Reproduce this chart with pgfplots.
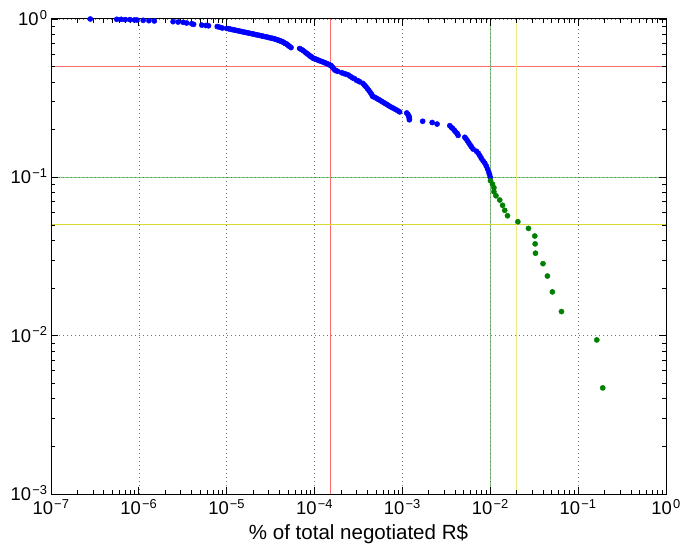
\documentclass[border=0pt]{standalone}
\usepackage{fontspec}
\setmainfont{Liberation Sans}
\usepackage{pgfplots}
\pgfplotsset{compat=1.18}
\definecolor{mplblue}{rgb}{0,0,1}
\definecolor{mplgreen}{rgb}{0,0.5,0}
\definecolor{refred}{rgb}{1,0.42,0.42}
\definecolor{refgreen}{rgb}{0.5,0.78,0.5}
\definecolor{refyellow}{rgb}{0.85,0.85,0.2}
\definecolor{refyellowv}{rgb}{0.92,0.92,0.5}
\newcommand{\tcklbl}{\fontsize{18.5}{22}\selectfont}
\newcommand{\lbl}{\fontsize{20.6}{24}\selectfont}
\newcommand{\pw}[1]{10\kern1.2bp\textsuperscript{#1}}

\begin{document}
\begin{tikzpicture}
\begin{axis}[
    name=ax,
    set layers,
    scale only axis,
    width=615bp, height=475bp,
    xmode=log, ymode=log,
    log basis x=10, log basis y=10,
    xmin=1e-7, xmax=1,
    ymin=1e-3, ymax=1,
    xtick={1e-7,1e-6,1e-5,1e-4,1e-3,1e-2,1e-1,1},
    minor xtick={2e-7,3e-7,4e-7,5e-7,6e-7,7e-7,8e-7,9e-7,
      2e-6,3e-6,4e-6,5e-6,6e-6,7e-6,8e-6,9e-6,
      2e-5,3e-5,4e-5,5e-5,6e-5,7e-5,8e-5,9e-5,
      2e-4,3e-4,4e-4,5e-4,6e-4,7e-4,8e-4,9e-4,
      2e-3,3e-3,4e-3,5e-3,6e-3,7e-3,8e-3,9e-3,
      2e-2,3e-2,4e-2,5e-2,6e-2,7e-2,8e-2,9e-2,
      0.2,0.3,0.4,0.5,0.6,0.7,0.8,0.9},
    ytick={1e-3,1e-2,1e-1,1},
    minor ytick={2e-3,3e-3,4e-3,5e-3,6e-3,7e-3,8e-3,9e-3,
      2e-2,3e-2,4e-2,5e-2,6e-2,7e-2,8e-2,9e-2,
      0.2,0.3,0.4,0.5,0.6,0.7,0.8,0.9},
    xticklabels={\pw{−7},\pw{−6},\pw{−5},\pw{−4},\pw{−3},\pw{−2},\pw{−1},\pw{0}},
    yticklabels={\pw{−3},\pw{−2},\pw{−1},\pw{0}},
    xmajorgrids, ymajorgrids,
    xminorgrids=false, yminorgrids=false,
    major grid style={black!55, line width=0.5bp, dash pattern=on 1bp off 3bp},
    axis line style={black, line width=1bp},
    tick style={black, line width=0.8bp},
    major tick length=7bp,
    minor tick length=4bp,
    tick align=inside,
    ticklabel style={font=\tcklbl},
    xticklabel style={yshift=-2bp},
    yticklabel style={yshift=1bp},
    label style={font=\lbl},
    xlabel style={yshift=-3bp},
    xlabel={\% of total negotiated R\$},
  ]

  % reference lines
  \addplot[refred, line width=1bp, on layer=axis background] coordinates {(1e-7,0.5) (1,0.5)};
  \addplot[refred, line width=1bp, on layer=axis background] coordinates {(1.5e-4,1e-3) (1.5e-4,1)};
  \addplot[refgreen, line width=1.3bp, on layer=axis background] coordinates {(1e-7,0.1) (1,0.1)};
  \addplot[refgreen, line width=1.3bp, on layer=axis background] coordinates {(1e-2,1e-3) (1e-2,1)};
  \addplot[refyellow, line width=1bp, on layer=axis background] coordinates {(1e-7,0.05) (1,0.05)};
  \addplot[refyellowv, line width=1.3bp, on layer=axis background] coordinates {(2e-2,1e-3) (2e-2,1)};

  % above 1%: blue
  \addplot[only marks, mark=*, mark size=2.6bp, mplblue] coordinates {
    (2.8e-7,1.000) (5.6e-7,0.995) (6.3e-7,0.995) (7.0e-7,0.991) (7.9e-7,0.991)
    (8.9e-7,0.986) (9.5e-7,0.986) (1.12e-6,0.981) (1.3e-6,0.976) (1.5e-6,0.972)
    (2.45e-6,0.962) (2.8e-6,0.957) (3.2e-6,0.953) (3.5e-6,0.943) (4.0e-6,0.934)
    (4.2e-6,0.925) (5.2e-6,0.915) (5.8e-6,0.910) (6.2e-6,0.906)
    (7.8e-6,0.896) (8.3e-6,0.887) (8.9e-6,0.877)
    (1.00e-5,0.872) (1.05e-5,0.868) (1.10e-5,0.863) (1.15e-5,0.858) (1.20e-5,0.854)
    (1.26e-5,0.849) (1.32e-5,0.844) (1.38e-5,0.840) (1.45e-5,0.835) (1.52e-5,0.830)
    (1.60e-5,0.825) (1.68e-5,0.821) (1.76e-5,0.816) (1.85e-5,0.811) (1.94e-5,0.807)
    (2.04e-5,0.802) (2.14e-5,0.797) (2.25e-5,0.792) (2.36e-5,0.788) (2.48e-5,0.783)
    (2.60e-5,0.778) (2.73e-5,0.774) (2.87e-5,0.769) (3.01e-5,0.764) (3.16e-5,0.759)
    (3.32e-5,0.755) (3.48e-5,0.750) (3.60e-5,0.745) (3.72e-5,0.741) (3.85e-5,0.736)
    (3.98e-5,0.731) (4.10e-5,0.726) (4.22e-5,0.722) (4.35e-5,0.717) (4.48e-5,0.708)
    (4.60e-5,0.703) (4.75e-5,0.698) (4.90e-5,0.689) (5.05e-5,0.679) (5.20e-5,0.670)
    (5.40e-5,0.660)
    (6.76e-5,0.651) (7.1e-5,0.642) (7.4e-5,0.632) (7.8e-5,0.618) (8.1e-5,0.608)
    (8.4e-5,0.599) (8.7e-5,0.590) (9.0e-5,0.580) (9.3e-5,0.575) (9.6e-5,0.566)
    (1.00e-4,0.561) (1.04e-4,0.557) (1.08e-4,0.552) (1.12e-4,0.547) (1.17e-4,0.542)
    (1.22e-4,0.538) (1.27e-4,0.533) (1.32e-4,0.528) (1.37e-4,0.524) (1.42e-4,0.519)
    (1.48e-4,0.514) (1.52e-4,0.509) (1.56e-4,0.505) (1.60e-4,0.495) (1.65e-4,0.486)
    (1.70e-4,0.476) (1.76e-4,0.472) (1.83e-4,0.467)
    (2.03e-4,0.458) (2.15e-4,0.453) (2.28e-4,0.448) (2.42e-4,0.443) (2.56e-4,0.434)
    (2.70e-4,0.425) (2.85e-4,0.420) (3.0e-4,0.410) (3.15e-4,0.406) (3.27e-4,0.401)
    (3.55e-4,0.392) (3.70e-4,0.382) (3.85e-4,0.373) (4.0e-4,0.363) (4.15e-4,0.354)
    (4.30e-4,0.344) (4.45e-4,0.335) (4.57e-4,0.325)
    (4.8e-4,0.321) (5.05e-4,0.316) (5.3e-4,0.311) (5.55e-4,0.307) (5.8e-4,0.302)
    (6.1e-4,0.297) (6.4e-4,0.292) (6.7e-4,0.288) (7.0e-4,0.283) (7.4e-4,0.278)
    (7.8e-4,0.274) (8.3e-4,0.269) (8.8e-4,0.264) (9.3e-4,0.259)
    (1.12e-3,0.255) (1.15e-3,0.250) (1.18e-3,0.245) (1.19e-3,0.240) (1.20e-3,0.236)
    (1.20e-3,0.231)
    (1.70e-3,0.226) (2.18e-3,0.222) (2.48e-3,0.217)
    (3.46e-3,0.212) (3.6e-3,0.207) (3.75e-3,0.203) (3.9e-3,0.198) (4.05e-3,0.193)
    (4.2e-3,0.189) (4.3e-3,0.184)
    (5.13e-3,0.179) (5.3e-3,0.175) (5.5e-3,0.170) (5.7e-3,0.165) (5.9e-3,0.160)
    (6.1e-3,0.156) (6.37e-3,0.151)
    (6.97e-3,0.146) (7.3e-3,0.142) (7.6e-3,0.137) (7.9e-3,0.132) (8.28e-3,0.127)
    (8.65e-3,0.123) (9.0e-3,0.118) (9.3e-3,0.113) (9.6e-3,0.108) (9.8e-3,0.104)
    (1.0e-2,0.100)
  };

  % below 1%: green
  \addplot[only marks, mark=*, mark size=2.6bp, mplgreen] coordinates {
    (0.01005,0.0952) (0.0106,0.0907) (0.0110,0.0860) (0.0110,0.0811) (0.0116,0.0765)
    (0.0128,0.0719) (0.0138,0.0666) (0.0146,0.0619) (0.0157,0.0572) (0.0206,0.0524)
    (0.0272,0.0476) (0.0321,0.0426) (0.0324,0.0380) (0.0327,0.0332) (0.0398,0.0285)
    (0.0447,0.0238) (0.0509,0.0189) (0.0646,0.0142) (0.163,0.0094) (0.1905,0.00468)
  };
\end{axis}
\pgfresetboundingbox
\path[use as bounding box] ([xshift=-51bp,yshift=-60bp]ax.south west) rectangle ([xshift=17bp,yshift=19bp]ax.north east);
\end{tikzpicture}
\end{document}
